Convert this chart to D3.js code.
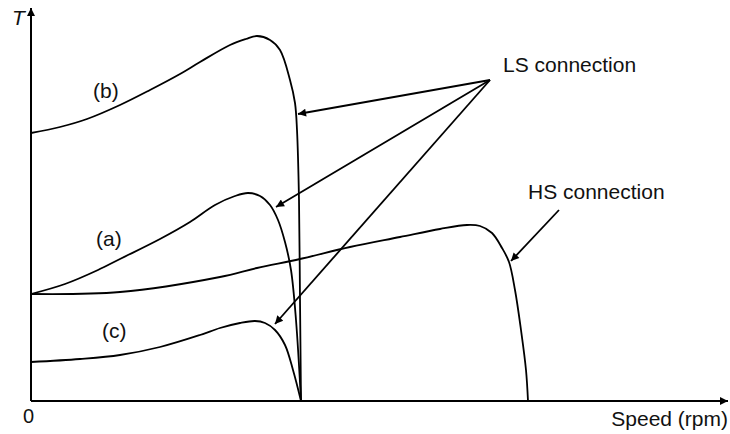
<!DOCTYPE html>
<html>
<head>
<meta charset="utf-8">
<script src="https://cdn.jsdelivr.net/npm/d3@7"></script>
<style>
  body { margin: 0; background: #fff; }
  svg text { font-family: "Liberation Sans", Arial, sans-serif; fill: #111; }
</style>
</head>
<body>
<div id="chart"></div>
<script>
var width = 730;
var height = 434;

// torque-speed curves, [speed, torque] in relative units
var curveB = [[0,268],[29,274],[56,282],[89,296],[119,311],[149,327],[169,339],[199,356],[215,362],[226,365],[239,361],[249,351],[259,321],[264,298],[266,271],[268,201],[269,101],[270,0]];
var curveA = [[0,107],[34,117],[67,131],[89,142],[129,162],[159,179],[184,196],[204,205],[217,208],[229,205],[239,196],[247,181],[254,159],[260,131],[265,81],[270,0]];
var curveC = [[0,39],[49,42],[89,46],[129,54],[169,66],[189,73],[209,78],[224,80],[234,78],[244,71],[254,56],[262,31],[270,0]];
var curveHS = [[0,107],[89,109],[189,124],[226,133],[269,142],[319,154],[369,164],[409,172],[436,176],[449,175],[461,168],[471,153],[478,139],[484,111],[490,71],[495,31],[497,0]];

// annotation labels and arrows
var curveLabels = [
	{text: "(b)", x: 62, y: 303},
	{text: "(a)", x: 65, y: 155},
	{text: "(c)", x: 71, y: 63}
];
var lsOrigin = [459, 321];
var lsTips = [[267, 287], [245, 194], [244, 77]];
var hsArrow = [[528, 191], [480, 140]];
var lsLabel = {text: "LS connection", x: 472, y: 329};
var hsLabel = {text: "HS connection", x: 497, y: 202};

var x = d3.scaleLinear().domain([0, 697]).range([31, 728]);
var y = d3.scaleLinear().domain([0, 393]).range([401, 8]);

var svg = d3.select("#chart").append("svg")
	.attr("width", width)
	.attr("height", height);

var defs = svg.append("defs");
defs.append("marker")
	.attr("id", "arrow")
	.attr("viewBox", "0 0 10 10")
	.attr("refX", 10)
	.attr("refY", 5)
	.attr("markerWidth", 13)
	.attr("markerHeight", 8)
	.attr("markerUnits", "userSpaceOnUse")
	.attr("orient", "auto")
	.append("path")
	.attr("d", "M0,0 L10,5 L0,10 z")
	.attr("fill", "#000");

// axes (plain lines with arrowheads, no ticks)
svg.append("line")
	.attr("x1", x(0)).attr("y1", y(0))
	.attr("x2", x(0)).attr("y2", y(393))
	.attr("stroke", "#000").attr("stroke-width", 2)
	.attr("marker-end", "url(#arrow)");
svg.append("line")
	.attr("x1", x(0)).attr("y1", y(0))
	.attr("x2", x(697)).attr("y2", y(0))
	.attr("stroke", "#000").attr("stroke-width", 2)
	.attr("marker-end", "url(#arrow)");

svg.append("text")
	.attr("x", 12).attr("y", 25)
	.attr("font-size", "21px")
	.attr("font-style", "italic")
	.text("T");
svg.append("text")
	.attr("x", x(0) - 8).attr("y", 423)
	.attr("font-size", "20px")
	.text("0");
svg.append("text")
	.attr("x", x(697)).attr("y", 426)
	.attr("text-anchor", "end")
	.attr("font-size", "21px")
	.text("Speed (rpm)");

var line = d3.line()
	.x(function(d) { return x(d[0]); })
	.y(function(d) { return y(d[1]); })
	.curve(d3.curveCatmullRom.alpha(0.5));

[curveB, curveA, curveC, curveHS].forEach(function(c) {
	svg.append("path")
		.datum(c)
		.attr("d", line)
		.attr("fill", "none")
		.attr("stroke", "#000")
		.attr("stroke-width", 1.8);
});

svg.selectAll(".curve-label")
	.data(curveLabels)
	.enter().append("text")
	.attr("class", "curve-label")
	.attr("x", function(d) { return x(d.x); })
	.attr("y", function(d) { return y(d.y); })
	.attr("font-size", "21px")
	.text(function(d) { return d.text; });

// LS arrows fan out from one point
svg.selectAll(".ls-arrow")
	.data(lsTips)
	.enter().append("line")
	.attr("class", "ls-arrow")
	.attr("x1", x(lsOrigin[0])).attr("y1", y(lsOrigin[1]))
	.attr("x2", function(d) { return x(d[0]); })
	.attr("y2", function(d) { return y(d[1]); })
	.attr("stroke", "#000").attr("stroke-width", 1.8)
	.attr("marker-end", "url(#arrow)");

svg.append("line")
	.attr("x1", x(hsArrow[0][0])).attr("y1", y(hsArrow[0][1]))
	.attr("x2", x(hsArrow[1][0])).attr("y2", y(hsArrow[1][1]))
	.attr("stroke", "#000").attr("stroke-width", 1.8)
	.attr("marker-end", "url(#arrow)");

svg.append("text")
	.attr("x", x(lsLabel.x)).attr("y", y(lsLabel.y))
	.attr("font-size", "21px")
	.text(lsLabel.text);
svg.append("text")
	.attr("x", x(hsLabel.x)).attr("y", y(hsLabel.y))
	.attr("font-size", "21px")
	.text(hsLabel.text);
</script>
</body>
</html>
